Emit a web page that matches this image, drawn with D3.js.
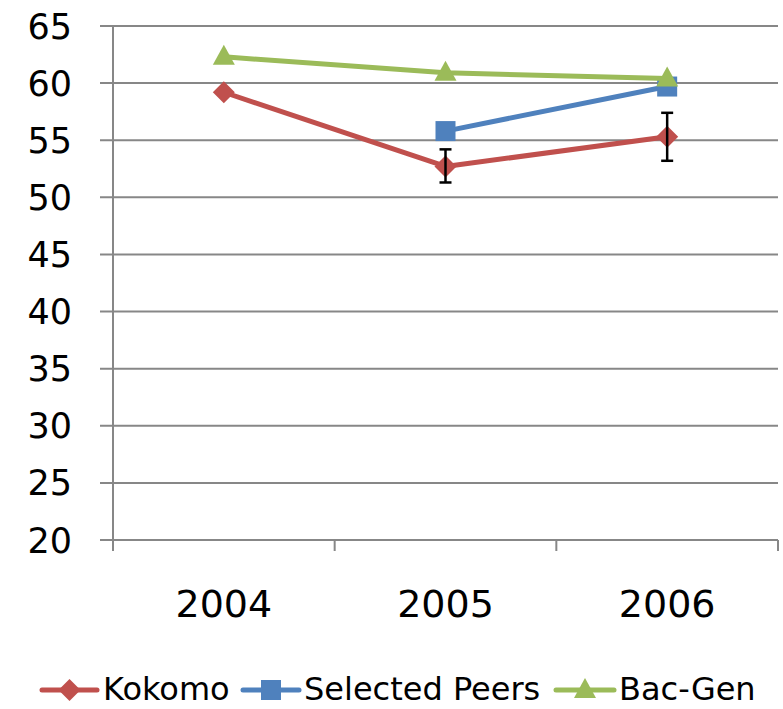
<!DOCTYPE html>
<html><head><meta charset="utf-8">
<script src="https://cdn.jsdelivr.net/npm/d3@7"></script>
<style>body{margin:0;background:#fff}svg{display:block}text{font-family:"DejaVu Sans",sans-serif;fill:#000}</style>
</head><body>
<script>
const years = ["2004","2005","2006"];
const kokomo = [59.2, 52.7, 55.3];
const kokomoErrLow = [null, 51.3, 53.2];
const kokomoErrHigh = [null, 54.2, 57.4];
const peers = [null, 55.8, 59.7];
const bacGen = [62.3, 60.9, 60.4];
const yTicks = [20,25,30,35,40,45,50,55,60,65];
const seriesNames = ["Kokomo","Selected Peers","Bac-Gen"];
const colors = ["#C0504D","#4F81BD","#9BBB59"];

const W=783,H=709;
const svg=d3.select("body").append("svg").attr("width",W).attr("height",H);
const x=d3.scaleBand().domain(years).range([113,778]);
const y=d3.scaleLinear().domain([20,65]).range([540,26]);
const cx=d=>x(d)+x.bandwidth()/2;

// gridlines
svg.append("g").selectAll("line").data(yTicks).join("line")
 .attr("x1",100).attr("x2",778).attr("y1",d=>y(d)).attr("y2",d=>y(d))
 .attr("stroke","#878787").attr("stroke-width",2);
// y axis
svg.append("line").attr("x1",113).attr("x2",113).attr("y1",y(65)).attr("y2",551)
 .attr("stroke","#878787").attr("stroke-width",2);
svg.append("g").selectAll("text").data(yTicks).join("text")
 .attr("x",72).attr("y",d=>y(d)).attr("dy","0.36em").attr("text-anchor","end")
 .attr("font-size",35).text(d=>d);
// x axis ticks
const xb=[113,...years.map(d=>x(d)+x.bandwidth())];
svg.append("g").selectAll("line").data(xb).join("line")
 .attr("x1",d=>d).attr("x2",d=>d).attr("y1",540).attr("y2",551)
 .attr("stroke","#878787").attr("stroke-width",2);
svg.append("g").selectAll("text").data(years).join("text")
 .attr("x",d=>cx(d)).attr("y",617).attr("text-anchor","middle")
 .attr("font-size",38).text(d=>d);

function diamond(g,color,r){
  g.append("path").attr("d",`M0,${-r}L${r},0L0,${r}L${-r},0Z`).attr("fill",color);
}
function draw(vals,idx){
  const pts=years.map((yr,i)=>({yr,v:vals[i]})).filter(d=>d.v!=null);
  svg.append("path").datum(pts).attr("fill","none").attr("stroke",colors[idx]).attr("stroke-width",5)
   .attr("stroke-linejoin","round")
   .attr("d",d3.line().x(d=>cx(d.yr)).y(d=>y(d.v)));
  pts.forEach(d=>{
    const g=svg.append("g").attr("transform",`translate(${cx(d.yr)},${y(d.v)})`);
    if(idx===0) diamond(g,colors[0],11);
    else if(idx===1) g.append("rect").attr("x",-10).attr("y",-10).attr("width",20).attr("height",20).attr("fill",colors[1]);
    else g.append("path").attr("d","M0,-12L11,8L-11,8Z").attr("fill",colors[2]);
  });
}
draw(kokomo,0);
// error bars
years.forEach((yr,i)=>{
  if(kokomoErrLow[i]==null) return;
  const g=svg.append("g").attr("stroke","#000").attr("stroke-width",2.5);
  g.append("line").attr("x1",cx(yr)).attr("x2",cx(yr)).attr("y1",y(kokomoErrLow[i])).attr("y2",y(kokomoErrHigh[i]));
  [kokomoErrLow[i],kokomoErrHigh[i]].forEach(v=>g.append("line").attr("x1",cx(yr)-6).attr("x2",cx(yr)+6).attr("y1",y(v)).attr("y2",y(v)));
});
draw(peers,1);
draw(bacGen,2);

// legend
const leg=[{x:42,x2:97,tx:103},{x:243,x2:299,tx:304},{x:556,x2:614,tx:619}];
leg.forEach((l,i)=>{
  const g=svg.append("g").attr("transform",`translate(0,690)`);
  g.append("line").attr("x1",l.x).attr("x2",l.x2).attr("y1",0).attr("y2",0).attr("stroke",colors[i]).attr("stroke-width",5).attr("stroke-linecap","round");
  const m=g.append("g").attr("transform",`translate(${(l.x+l.x2)/2},0)`);
  if(i===0) diamond(m,colors[0],11);
  else if(i===1) m.append("rect").attr("x",-10).attr("y",-10).attr("width",20).attr("height",20).attr("fill",colors[1]);
  else m.append("path").attr("d","M0,-12L11,8L-11,8Z").attr("fill",colors[2]);
  g.append("text").attr("x",l.tx).attr("y",10).attr("font-size",32).text(seriesNames[i]);
});
</script>
</body></html>
